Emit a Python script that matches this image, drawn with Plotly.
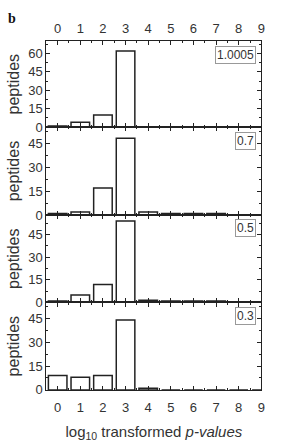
import plotly.graph_objects as go

categories = [0, 1, 2, 3, 4, 5, 6, 7, 8, 9]
vals_10005 = [1, 4, 10, 62, 0, 0, 0, 0, 0, 0]
vals_07 = [1, 2, 17, 48, 2, 1, 1, 1, 0, 0]
vals_05 = [1, 5, 12, 54, 1.5, 1, 1, 1, 0, 0]
vals_03 = [9, 8, 9, 44, 1, 0, 0, 0, 0, 0]
panel_labels = ["1.0005", "0.7", "0.5", "0.3"]
series = [vals_10005, vals_07, vals_05, vals_03]
y_ranges = [[0, 70], [0, 55], [0, 58], [0, 55]]

W, H = 291, 446
x0, x1 = 47, 265
bounds = [(42, 129.5), (129.5, 219), (219, 308), (308, 397)]

FONT = "Arial, Liberation Sans, sans-serif"
TXT = "#333333"
AX = "#222222"

fig = go.Figure()
layout = dict(
    width=W, height=H, margin=dict(l=0, r=0, t=0, b=0),
    paper_bgcolor="white", plot_bgcolor="white", showlegend=False,
    font=dict(family=FONT, size=13, color=TXT),
)
annotations = []
for i, (vals, lab) in enumerate(zip(series, panel_labels)):
    n = "" if i == 0 else str(i + 1)
    xa = "x" + n
    ya = "y" + n
    fig.add_trace(go.Bar(
        x=categories, y=vals, xaxis=xa, yaxis=ya, width=0.82,
        marker=dict(color="white", line=dict(color=AX, width=1.5)),
    ))
    top, bot = bounds[i]
    xaxis = dict(
        domain=[x0 / W, x1 / W], range=[-0.5, 9], anchor=ya,
        tickmode="array", tickvals=categories, ticktext=[str(c) for c in categories],
        ticks="inside", ticklen=4, tickwidth=1, tickcolor=AX,
        minor=dict(ticks="inside", ticklen=2, dtick=0.5, tick0=0, tickcolor=AX),
        showline=True, linecolor=AX, linewidth=1.2, mirror="allticks",
        showgrid=False, zeroline=False, fixedrange=True,
        tickfont=dict(size=13, color=TXT),
    )
    if i == 0:
        xaxis["side"] = "top"
        xaxis["showticklabels"] = True
        xaxis["ticklabelstandoff"] = 2
    elif i == 3:
        xaxis["side"] = "bottom"
        xaxis["showticklabels"] = True
        xaxis["ticklabelstandoff"] = 5
        xaxis["title"] = dict(
            text="log<sub>10</sub> transformed <i>p-values</i>",
            font=dict(size=15, color=TXT), standoff=12,
        )
    else:
        xaxis["showticklabels"] = False
    yaxis = dict(
        domain=[1 - bot / H, 1 - top / H], range=y_ranges[i], anchor=xa,
        dtick=15, tick0=0, ticks="inside", ticklen=4, tickwidth=1, tickcolor=AX,
        minor=dict(ticks="inside", ticklen=2, dtick=7.5, tick0=0, tickcolor=AX),
        showline=True, linecolor=AX, linewidth=1.2, mirror="allticks",
        showgrid=False, zeroline=False, fixedrange=True,
        tickfont=dict(size=13, color=TXT),
        title=dict(text="peptides", font=dict(size=16, color=TXT), standoff=4),
    )
    layout["xaxis" + n] = xaxis
    layout["yaxis" + n] = yaxis
    annotations.append(dict(
        text=lab, xref=xa + " domain", yref=ya + " domain",
        x=0.975, y=0.95, xanchor="right", yanchor="top", showarrow=False,
        font=dict(size=12, color=TXT), bordercolor="#999999", borderwidth=1,
        borderpad=1, bgcolor="white",
    ))

annotations.append(dict(
    text="<b>b</b>", xref="paper", yref="paper", x=6 / W, y=1 - 19 / H,
    xanchor="left", yanchor="middle", showarrow=False,
    font=dict(size=14, family="Liberation Serif, Times New Roman, serif", color="#111111"),
))
layout["annotations"] = annotations
fig.update_layout(**layout)
fig.write_html("out.html")
